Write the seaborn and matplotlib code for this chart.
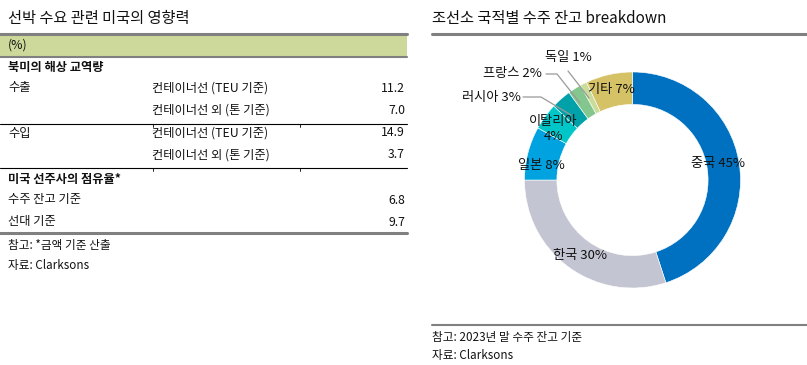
import numpy as np
import pandas as pd
import seaborn as sns
import matplotlib.pyplot as plt
from matplotlib.lines import Line2D
from matplotlib.patches import Rectangle

sns.set_theme(style="white")
plt.rcParams["font.family"] = ["Noto Sans CJK KR", "DejaVu Sans"]

# ---------------------------------------------------------------- data
row_group = ["수출", "", "수입", "", "수주 잔고 기준", "선대 기준"]
row_item = ["컨테이너선 (TEU 기준)", "컨테이너선 외 (톤 기준)",
            "컨테이너선 (TEU 기준)", "컨테이너선 외 (톤 기준)", "", ""]
row_value = [11.2, 7.0, 14.9, 3.7, 6.8, 9.7]

countries = ["중국", "한국", "일본", "이탈리아", "러시아", "프랑스", "독일", "기타"]
shares = [45, 30, 8, 4, 3, 2, 1, 7]
colors = ["#0070C0", "#C4C5D2", "#00A3E0", "#00C6C8",
          "#00A1A8", "#84C78E", "#C9DC9A", "#D6C266"]

W, H = 807, 365
fig = plt.figure(figsize=(W / 100, H / 100), dpi=100)

# full-figure pixel axes for the table and headers
bg = fig.add_axes([0, 0, 1, 1])
bg.set_xlim(0, W)
bg.set_ylim(H, 0)
bg.axis("off")

GRAY = "#808080"
TXT = "#111111"
fs = 8.8

# ---------------------------------------------------------------- left table
bg.text(8, 18, "선박 수요 관련 미국의 영향력", fontsize=11, va="center", color=TXT)
bg.add_patch(Rectangle((0, 34), 407, 22, color="#CCD99B", lw=0))
bg.add_line(Line2D([0, 407], [33.5, 33.5], color=GRAY, lw=2.2))
bg.add_line(Line2D([0, 407], [56.5, 56.5], color=GRAY, lw=1.5))
bg.text(8, 45, "(%)", fontsize=fs, va="center", color=TXT)
bg.text(8, 68, "북미의 해상 교역량", fontsize=fs, va="center", weight="bold", color=TXT)

row_y = [88, 110, 133, 155, 200, 222]
for y, g, it, v in zip(row_y, row_group, row_item, row_value):
    if g:
        bg.text(8, y, g, fontsize=fs, va="center", color=TXT)
    if it:
        bg.text(152, y, it, fontsize=fs, va="center", color=TXT)
    bg.text(405, y, f"{v:.1f}", fontsize=fs, va="center", ha="right", color=TXT)

for y in [124, 168]:
    bg.add_line(Line2D([0, 407], [y, y], color="black", lw=0.8))
    for tx in [152.5, 299.5]:
        bg.add_line(Line2D([tx, tx], [y, y + 3], color="black", lw=0.6))
bg.text(8, 179, "미국 선주사의 점유율*", fontsize=fs, va="center", weight="bold", color=TXT)
bg.add_line(Line2D([0, 407], [233, 233], color=GRAY, lw=2.2))
bg.text(8, 245, "참고: *금액 기준 산출", fontsize=8.4, va="center", color=TXT)
bg.text(8, 266, "자료: Clarksons", fontsize=8.4, va="center", color=TXT)

# ---------------------------------------------------------------- right header / footer
bg.text(432, 18, "조선소 국적별 수주 잔고 breakdown", fontsize=11, va="center", color=TXT)
bg.add_line(Line2D([432, W], [33.5, 33.5], color=GRAY, lw=2.2))
bg.add_line(Line2D([432, W], [325, 325], color=GRAY, lw=1.5))
bg.text(432, 337, "참고: 2023년 말 수주 잔고 기준", fontsize=8.4, va="center", color=TXT)
bg.text(432, 356, "자료: Clarksons", fontsize=8.4, va="center", color=TXT)

# ---------------------------------------------------------------- donut
cx, cy, r = 632.5, 180, 108
ax = fig.add_axes([(cx - r) / W, (H - cy - r) / H, 2 * r / W, 2 * r / H])
df = pd.DataFrame({"country": countries, "share": shares, "color": colors})
ax.pie(df["share"], colors=df["color"], startangle=90, counterclock=False,
       radius=1, wedgeprops=dict(width=0.3, linewidth=0.4, edgecolor="white"))
ax.set_xlim(-1, 1)
ax.set_ylim(-1, 1)
ax.axis("off")

def px(x, y):
    return (x - cx) / r, (cy - y) / r

label_pos = [(718, 163), (580, 256), (541, 166), (553, 129),
             (491, 97), (512, 73), (568, 57), (611, 89)]
for name, s, (lx, ly) in zip(df["country"], df["share"], label_pos):
    txt = f"{name}\n{s}%" if name == "이탈리아" else f"{name} {s}%"
    ax.text(*px(lx, ly), txt, fontsize=9.5, ha="center", va="center",
            color=TXT, linespacing=1.3, clip_on=False)

leaders = [
    [(523, 97), (541, 97), (571, 115)],   # 러시아
    [(546, 74), (557, 74), (580, 103)],   # 프랑스
    [(568, 71), (589, 98)],               # 독일
]
for pts in leaders:
    xs, ys = zip(*[px(a, b) for a, b in pts])
    ax.plot(xs, ys, color="#9a9a9a", lw=0.9, clip_on=False)

fig.savefig("out.png", dpi=100)
